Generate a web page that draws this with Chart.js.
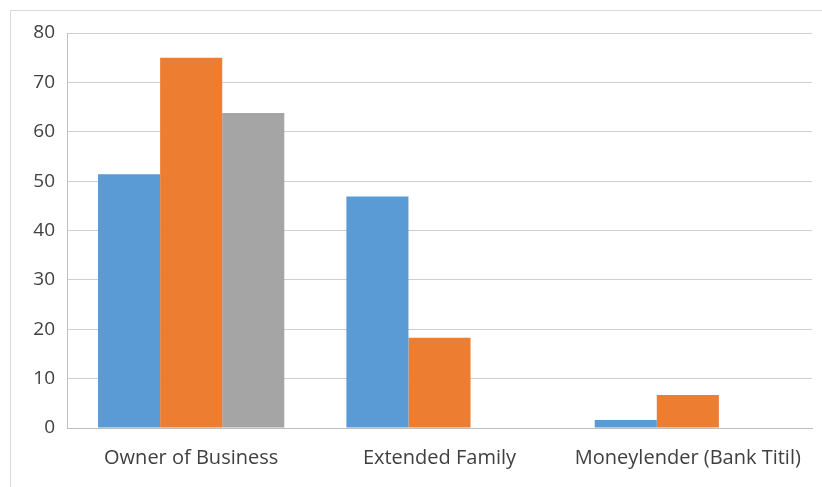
<!DOCTYPE html>
<html>
<head>
<meta charset="utf-8">
<script src="https://cdn.jsdelivr.net/npm/chart.js@4/dist/chart.umd.min.js"></script>
<style>
  html, body { margin: 0; padding: 0; background: #fff; overflow: hidden; }
  #frame {
    position: absolute; left: 10px; top: 10px; width: 830px; height: 500px;
    border: 1px solid #d9d9d9; box-sizing: border-box;
  }
  #chart { position: absolute; left: 0; top: 0; }
</style>
</head>
<body>
<div id="frame"></div>
<canvas id="chart" width="822" height="487"></canvas>
<script>
// categorias e valores
const categorias = ['Owner of Business', 'Extended Family', 'Moneylender (Bank Titil)'];
const serie1 = [51.4, 46.9, 1.6];
const serie2 = [75.0, 18.3, 6.7];
const serie3 = [63.8, 0, 0];
const ticksY = [0, 10, 20, 30, 40, 50, 60, 70, 80];

new Chart(document.getElementById('chart').getContext('2d'), {
    type: 'bar',
    data: {
        labels: categorias,
        datasets: [
            { label: 'Series 1', data: serie1, backgroundColor: '#5B9BD5' },
            { label: 'Series 2', data: serie2, backgroundColor: '#ED7D31' },
            { label: 'Series 3', data: serie3, backgroundColor: '#A5A5A5' }
        ]
    },
    options: {
        responsive: false,
        animation: false,
        devicePixelRatio: 1,
        layout: { padding: { left: 0, top: 33, right: 10, bottom: 0 } },
        datasets: { bar: { categoryPercentage: 0.75, barPercentage: 1.0, borderWidth: 0 } },
        plugins: { legend: { display: false }, tooltip: { enabled: false } },
        scales: {
            x: {
                grid: { display: false },
                border: { display: true, color: '#bfbfbf', width: 1 },
                ticks: { color: '#404040', font: { family: 'Open Sans', size: 20 }, padding: 10, maxRotation: 0 },
                afterFit: (scale) => { scale.height = 59; }
            },
            y: {
                min: 0,
                max: 80,
                afterBuildTicks: (scale) => { scale.ticks = ticksY.map(v => ({ value: v })); },
                grid: { color: '#cfcfcf', lineWidth: 1, drawTicks: false },
                border: { display: true, color: '#bfbfbf', width: 1 },
                ticks: { color: '#404040', font: { family: 'Open Sans', size: 19 }, padding: 12 },
                afterFit: (scale) => { scale.width = 67; }
            }
        }
    }
});
</script>
</body>
</html>
